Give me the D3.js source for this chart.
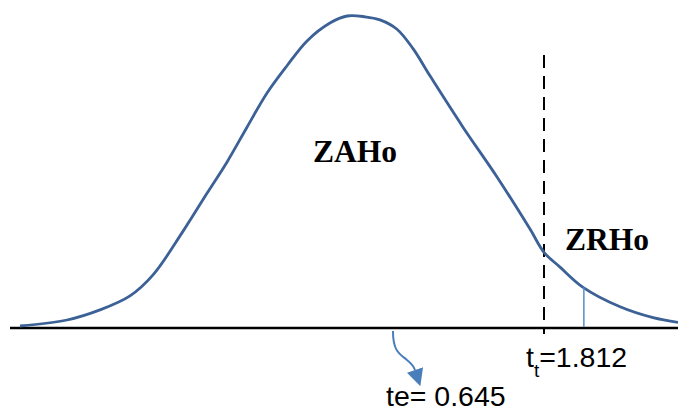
<!DOCTYPE html>
<html>
<head>
<meta charset="utf-8">
<script src="https://cdn.jsdelivr.net/npm/d3@7"></script>
<style>
  body { margin: 0; background: #fff; }
</style>
</head>
<body>
<svg></svg>
<script>
// t-distribution sketch with critical value and observed statistic

const width = 678;
const height = 408;

// curve: t value and relative density
const curveT = [-2.237, -1.874, -1.619, -1.387, -1.209, -0.978, -0.792, -0.638, -0.483, -0.328,
  -0.174, -0.019, 0.158, 0.290, 0.429, 0.545, 0.676, 0.800, 0.931, 1.186,
  1.449, 1.704, 1.812, 1.936, 2.114, 2.400, 2.655, 2.848];
const curveDensity = [0.0013, 0.009, 0.022, 0.040, 0.067, 0.123, 0.172, 0.212, 0.257, 0.301,
  0.336, 0.368, 0.391, 0.400, 0.399, 0.395, 0.383, 0.358, 0.323, 0.257,
  0.193, 0.126, 0.096, 0.077, 0.051, 0.026, 0.012, 0.006];

const tCritical = 1.812;
const tObserved = 0.645;
const markerT = 2.12;
const markerDensity = 0.051;
const regionLabels = ["ZAHo", "ZRHo"];

const points = curveT.map((t, i) => ({ t, d: curveDensity[i] }));

const x = d3.scaleLinear().domain([0, tCritical]).range([309.5, 544]);
const y = d3.scaleLinear().domain([0, 0.4]).range([327, 16]);

const svg = d3.select("svg")
  .attr("width", width)
  .attr("height", height);

svg.append("defs").append("marker")
  .attr("id", "arrow")
  .attr("viewBox", "0 -5 10 10")
  .attr("refX", 0)
  .attr("refY", 0)
  .attr("markerUnits", "userSpaceOnUse")
  .attr("markerWidth", 17)
  .attr("markerHeight", 17)
  .attr("orient", "auto")
  .append("path")
  .attr("fill", "#4a7ebb")
  .attr("d", "M0,-5L10,0L0,5Z");

// baseline
svg.append("line")
  .attr("x1", 10).attr("x2", width)
  .attr("y1", y(0) + 1).attr("y2", y(0) + 1)
  .attr("stroke", "#000")
  .attr("stroke-width", 2.5);

// critical value
svg.append("line")
  .attr("x1", x(tCritical)).attr("x2", x(tCritical))
  .attr("y1", y(0.35)).attr("y2", y(0) + 7)
  .attr("stroke", "#000")
  .attr("stroke-width", 2)
  .attr("stroke-dasharray", "13,8");

const line = d3.line()
  .x(d => x(d.t))
  .y(d => y(d.d))
  .curve(d3.curveCatmullRom.alpha(0.5));

svg.append("path")
  .datum(points)
  .attr("fill", "none")
  .attr("stroke", "#3b6196")
  .attr("stroke-width", 2.8)
  .attr("d", line);

svg.append("line")
  .attr("x1", x(markerT)).attr("x2", x(markerT))
  .attr("y1", y(markerDensity)).attr("y2", y(0))
  .attr("stroke", "#5b8cc8")
  .attr("stroke-width", 1.5);

// arrow pointing to te
const ax = x(tObserved), ay = y(0) + 4;
svg.append("path")
  .attr("fill", "none")
  .attr("stroke", "#4a7ebb")
  .attr("stroke-width", 2)
  .attr("marker-end", "url(#arrow)")
  .attr("d", `M${ax},${ay}C${ax},${ay + 21} ${ax + 7},${ay + 23} ${ax + 14},${ay + 29}C${ax + 19},${ay + 33} ${ax + 21},${ay + 36} ${ax + 22},${ay + 39}`);

const serif = "'Liberation Serif', 'Times New Roman', serif";
const sans = "'Liberation Sans', Arial, sans-serif";

svg.append("text")
  .attr("x", 313).attr("y", 162)
  .attr("font-family", serif)
  .attr("font-weight", "bold")
  .attr("font-size", 31.5)
  .text(regionLabels[0]);

svg.append("text")
  .attr("x", 565).attr("y", 250)
  .attr("font-family", serif)
  .attr("font-weight", "bold")
  .attr("font-size", 31.5)
  .text(regionLabels[1]);

const tt = svg.append("text")
  .attr("x", 526).attr("y", 367)
  .attr("font-family", sans)
  .attr("font-size", 28.5)
  .attr("fill", "#000");
tt.append("tspan").text("t");
tt.append("tspan").attr("font-size", 19).attr("dy", 10).text("t");
tt.append("tspan").attr("dy", -10).text("=" + tCritical);

svg.append("text")
  .attr("x", 386).attr("y", 406)
  .attr("font-family", sans)
  .attr("font-size", 28.5)
  .attr("fill", "#000")
  .text("te= " + tObserved);
</script>
</body>
</html>
